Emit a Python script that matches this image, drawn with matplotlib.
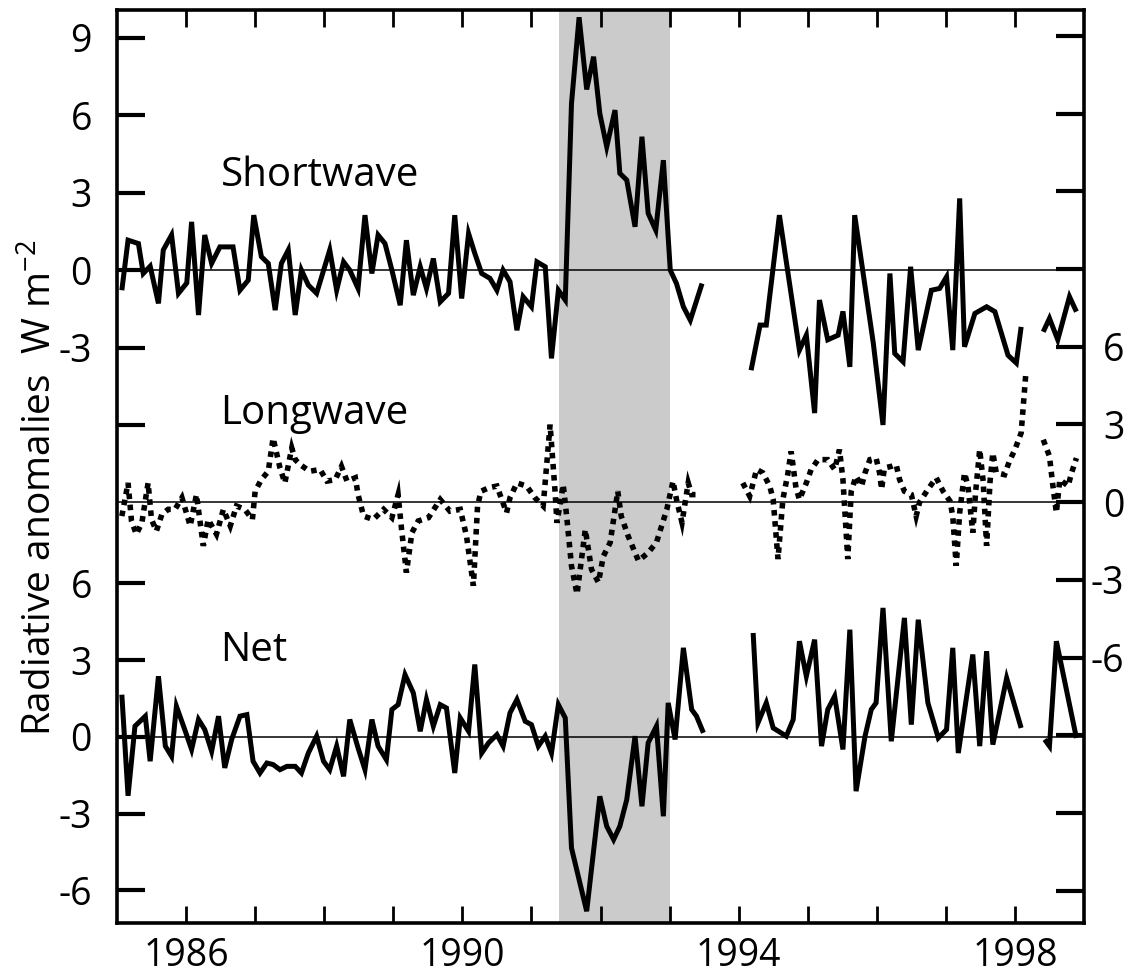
import numpy as np
import matplotlib
matplotlib.use("Agg")
import matplotlib.pyplot as plt

plt.rcParams['font.family'] = ['Open Sans', 'DejaVu Sans']
plt.rcParams['axes.unicode_minus'] = False

nan = np.nan

# shortwave anomalies (W m-2), decimal years
sw_t = [1985.07, 1985.16, 1985.31, 1985.38, 1985.48, 1985.60, 1985.67, 1985.79, 1985.89,
        1986.01, 1986.08, 1986.18, 1986.27, 1986.37, 1986.49, 1986.68, 1986.78, 1986.90, 1986.98,
        1987.09, 1987.19, 1987.29, 1987.38, 1987.48, 1987.58, 1987.67, 1987.77, 1987.89,
        1988.08, 1988.18, 1988.28, 1988.37, 1988.49, 1988.59, 1988.69, 1988.78, 1988.88, 1988.98,
        1989.10, 1989.19, 1989.29, 1989.39, 1989.48, 1989.58, 1989.68, 1989.80, 1989.89, 1989.99,
        1990.09, 1990.18, 1990.28, 1990.40, 1990.50, 1990.59, 1990.69, 1990.79, 1990.88,
        1991.00, 1991.08, 1991.20, 1991.29, 1991.39, 1991.49,
        1991.58, 1991.69, 1991.80, 1991.90, 1991.99, 1992.09, 1992.21, 1992.28, 1992.38, 1992.50,
        1992.60, 1992.69, 1992.80, 1992.91, 1993.01, 1993.10, 1993.20, 1993.30, 1993.47,
        1993.80,
        1994.18, 1994.31, 1994.40, 1994.59, 1994.88, 1994.98, 1995.10, 1995.17, 1995.29, 1995.44,
        1995.51, 1995.61, 1995.68, 1995.95, 1996.09, 1996.19, 1996.26, 1996.38, 1996.49, 1996.60,
        1996.79, 1996.91, 1997.01, 1997.10, 1997.20, 1997.27, 1997.42, 1997.59, 1997.71, 1997.90,
        1998.02, 1998.09,
        1998.25,
        1998.41, 1998.50, 1998.62, 1998.79, 1998.89]
sw_v = [-0.78, 1.16, 1.03, -0.13, 0.15, -1.29, 0.78, 1.36, -0.9,
        -0.5, 1.87, -1.74, 1.36, 0.26, 0.9, 0.9, -0.78, -0.39, 2.13,
        0.52, 0.26, -1.55, 0.26, 0.78, -1.74, 0, -0.58, -0.9,
        0.78, -0.78, 0.32, 0, -0.71, 2.13, -0.13, 1.36, 1.03, 0,
        -1.36, 1.16, -0.97, 0.13, -0.71, 0.45, -1.23, -0.9, 2.13, -1.1,
        1.42, 0.65, -0.13, -0.32, -0.78, 0, -0.45, -2.33, -1.03,
        -1.42, 0.32, 0.13, -3.42, -0.78, -1.16,
        6.46, 9.8, 7.0, 8.27, 6.07, 4.78, 6.2, 3.75, 3.49, 1.68,
        5.17, 2.2, 1.55, 4.26, 0, -0.52, -1.42, -1.94, -0.52,
        nan,
        -3.88, -2.13, -2.13, 2.13, -3.1, -2.52, -5.54, -1.16, -2.7, -2.52,
        -1.6, -3.75, 2.13, -2.84, -6.0, -0.13, -3.23, -3.55, 0.13, -3.1,
        -0.78, -0.71, -0.26, -3.1, 2.78, -2.97, -1.68, -1.42, -1.61, -3.3,
        -3.6, -2.2,
        nan,
        -2.39, -1.87, -2.7, -1.03, -1.61]

# longwave anomalies
lw_t = [1985.07, 1985.16, 1985.21, 1985.28, 1985.36, 1985.45, 1985.50, 1985.57, 1985.65, 1985.74,
        1985.84, 1985.94, 1986.06, 1986.15, 1986.25, 1986.32, 1986.44, 1986.54, 1986.64, 1986.73,
        1986.85, 1986.96, 1987.00, 1987.09, 1987.19, 1987.26, 1987.36, 1987.43, 1987.53, 1987.58,
        1987.65, 1987.79, 1987.94, 1988.04, 1988.16, 1988.25, 1988.33, 1988.45, 1988.49, 1988.57,
        1988.71, 1988.86, 1988.98, 1989.07, 1989.12, 1989.19, 1989.27, 1989.36, 1989.51, 1989.68,
        1989.82, 1989.97, 1990.06, 1990.16, 1990.22, 1990.27, 1990.38, 1990.50, 1990.64, 1990.69,
        1990.79, 1990.93, 1991.05, 1991.17, 1991.27, 1991.34, 1991.37, 1991.46, 1991.51,
        1991.58, 1991.66, 1991.78, 1991.87, 1991.97, 1992.04, 1992.14, 1992.25, 1992.30, 1992.40,
        1992.55, 1992.69, 1992.81, 1992.96, 1993.05, 1993.10, 1993.18, 1993.27, 1993.32, 1993.44,
        1993.75,
        1994.06, 1994.16, 1994.26, 1994.35, 1994.45, 1994.50, 1994.57, 1994.64, 1994.71, 1994.76,
        1994.83, 1994.88, 1994.98, 1995.05, 1995.15, 1995.29, 1995.39, 1995.46, 1995.51, 1995.58,
        1995.63, 1995.70, 1995.78, 1995.83, 1995.90, 1995.99, 1996.04, 1996.07, 1996.11, 1996.21,
        1996.28, 1996.33, 1996.40, 1996.50, 1996.57, 1996.62, 1996.74, 1996.86, 1996.96, 1997.06,
        1997.10, 1997.15, 1997.20, 1997.27, 1997.32, 1997.39, 1997.43, 1997.49, 1997.54, 1997.59,
        1997.64, 1997.68, 1997.73, 1997.85, 1997.92, 1998.00, 1998.09, 1998.16,
        1998.28,
        1998.41, 1998.50, 1998.55, 1998.60, 1998.65, 1998.77, 1998.82, 1998.89]
lw_v = [-0.54, 0.74, -0.73, -1.24, -0.8, 0.74, -0.67, -1.12, -0.47, -0.28,
        -0.28, 0.17, -0.92, 0.29, -1.69, -0.67, -1.24, -0.28, -0.92, -0.15,
        -0.28, -0.67, 0.42, 0.87, 1.19, 2.47, 1.32, 0.74, 2.09, 1.64,
        1.45, 1.19, 1.26, 0.81, 0.87, 1.38, 0.81, 0.94, 0.29, -0.54,
        -0.67, -0.28, -0.6, 0.29, -1.05, -2.72, -1.18, -0.73, -0.6, 0.1,
        -0.35, -0.28, -1.31, -3.23, -0.15, 0.42, 0.55, 0.62, -0.41, 0.17,
        0.74, 0.62, 0.17, -0.15, 2.99, 0.49, -0.8, 0.68, -0.54,
        -2.46, -3.55, -1.06, -2.6, -3.1, -2.1, -1.56, 0.42, -0.54, -1.31,
        -2.27, -1.95, -1.56, -0.28, 0.81, 0.1, -0.79, 0.74, 0.29, 0.29,
        nan,
        0.74, 0.23, 1.26, 1.13, 0.62, 0.1, -2.2, 0.1, 1.06, 1.96,
        0.55, 0.1, 0.74, 1.26, 1.64, 1.64, 1.26, 2.03, 0.87, -2.2,
        0.42, 1.0, 0.62, 1.13, 1.64, 1.7, 1.13, 0.49, 1.32, 1.38,
        1.45, 0.87, 0.42, 0.29, -0.54, 0, 0.49, 0.94, 0.42, 0.04,
        -0.54, -2.46, -0.41, 1.13, 0.62, -1.18, 0.36, 2.03, 0.81, -1.69,
        0.81, 1.9, 1.13, 1.06, 1.58, 2.03, 2.67, 5.04,
        nan,
        2.41, 1.77, 0.62, -0.41, 0.87, 0.62, 1.13, 1.7]

# net anomalies
net_t = [1985.07, 1985.16, 1985.26, 1985.36, 1985.41, 1985.48, 1985.60, 1985.70, 1985.79, 1985.86,
         1985.98, 1986.08, 1986.18, 1986.27, 1986.37, 1986.47, 1986.56, 1986.66, 1986.78, 1986.88,
         1986.97, 1987.07, 1987.17, 1987.26, 1987.36, 1987.46, 1987.58, 1987.67, 1987.77, 1987.89,
         1987.99, 1988.08, 1988.18, 1988.28, 1988.37, 1988.49, 1988.59, 1988.69, 1988.78, 1988.90,
         1988.98, 1989.07, 1989.17, 1989.29, 1989.39, 1989.48, 1989.58, 1989.68, 1989.77, 1989.89,
         1989.97, 1990.09, 1990.18, 1990.28, 1990.38, 1990.50, 1990.59, 1990.69, 1990.79, 1990.91,
         1991.00, 1991.10, 1991.20, 1991.29, 1991.39, 1991.49,
         1991.58, 1991.80, 1991.99, 1992.09, 1992.19, 1992.28, 1992.38, 1992.50, 1992.60, 1992.69,
         1992.81, 1992.91, 1992.98, 1993.08, 1993.20, 1993.32, 1993.39, 1993.49,
         1993.85,
         1994.21, 1994.28, 1994.40, 1994.50, 1994.69, 1994.79, 1994.88, 1994.98, 1995.10, 1995.20,
         1995.29, 1995.39, 1995.51, 1995.61, 1995.70, 1995.83, 1995.92, 1995.99, 1996.09, 1996.21,
         1996.40, 1996.50, 1996.60, 1996.74, 1996.89, 1997.01, 1997.10, 1997.18, 1997.39, 1997.49,
         1997.59, 1997.68, 1997.88, 1998.09,
         1998.25,
         1998.43, 1998.50, 1998.60, 1998.89]
net_v = [1.65, -2.3, 0.42, 0.68, 0.81, -0.95, 2.37, -0.36, -0.76, 1.2,
         0.29, -0.49, 0.68, 0.29, -0.56, 0.81, -1.21, -0.1, 0.81, 0.87,
         -0.95, -1.41, -1.02, -1.08, -1.28, -1.15, -1.15, -1.41, -0.63, 0.03,
         -0.95, -1.28, -0.36, -1.54, 0.68, -0.43, -1.28, 0.68, -0.36, -0.89,
         1.07, 1.26, 2.43, 1.72, 0.22, 1.46, 0.42, 1.26, 1.13, -1.41,
         0.74, 0.22, 2.83, -0.63, -0.23, 0.09, -0.36, 0.94, 1.46, 0.61,
         0.48, -0.36, 0.03, -0.63, 1.26, 0.74,
         -4.34, -6.81, -2.32, -3.49, -4.01, -3.49, -2.45, 0.03, -2.71, -0.23,
         0.42, -3.1, 1.33, -0.1, 3.48, 1.07, 0.81, 0.16,
         nan,
         4.06, 0.55, 1.33, 0.35, 0.03, 0.68, 3.74, 2.37, 3.8, -0.36,
         1.07, 1.59, -0.49, 4.19, -2.12, 0.03, 1.07, 1.33, 5.04, -0.17,
         4.65, 0.48, 4.58, 1.33, -0.04, 0.29, 3.48, -0.63, 3.22, -0.36,
         3.35, -0.3, 2.3, 0.35,
         nan,
         -0.1, -0.36, 3.74, -0.04]

pinatubo = (1991.4, 1993.0)
year_labels = [1986, 1990, 1994, 1998]

rect = [117 / 1128, 1 - 923 / 975, (1084 - 117) / 1128, (923 - 10) / 975]
fig = plt.figure(figsize=(11.28, 9.75), dpi=100)
ax = fig.add_axes(rect)
ax_net = fig.add_axes(rect, sharex=ax, frameon=False)
ax_lw = fig.add_axes(rect, sharex=ax, frameon=False)
ax_net.patch.set_visible(False)
ax_lw.patch.set_visible(False)

ax.axvspan(*pinatubo, color='#cbcbcb', lw=0, zorder=0)

solid = dict(color='black', lw=3.6, solid_joinstyle='miter', solid_capstyle='butt')
ax.plot(sw_t, sw_v, **solid)
ax_net.plot(net_t, net_v, **solid)
ax_lw.plot(lw_t, lw_v, color='black', lw=4.0, linestyle=(0, (1, 1.0)),
           dash_capstyle='butt', dash_joinstyle='miter')

for a in (ax, ax_net, ax_lw):
    a.axhline(0, color='black', lw=1.1, zorder=1)

ax.set_xlim(1985, 1999)
ax.set_ylim(-25.3, 10.08)
ax_net.set_ylim(-7.27, 28.4)
ax_lw.set_ylim(-16.25, 19.0)

# x ticks every year, labelled every four
years = np.arange(1986, 1999)
ax.set_xticks(years)
ax.set_xticklabels([str(y) if y in year_labels else '' for y in years])
ax.tick_params(axis='x', direction='in', length=12, width=2.0, top=True,
               labelsize=27, pad=10)
ax.tick_params(axis='x', which='both', labeltop=False)

# left: shortwave and net
sw_ticks = [9, 6, 3, 0, -3, -6]
ax.set_yticks(sw_ticks)
ax.set_yticklabels(['9', '6', '3', '0', '-3', ''])
net_ticks = [6, 3, 0, -3, -6]
ax_net.set_yticks(net_ticks)
ax_net.set_yticklabels([str(v) for v in net_ticks])
for a in (ax, ax_net):
    a.tick_params(axis='y', direction='in', length=20, width=3.0, labelsize=27,
                  pad=18, right=False)
ax_net.tick_params(axis='x', bottom=False, labelbottom=False)

# right: longwave, labels right-aligned near the figure edge
lw_ticks = np.arange(18, -16, -3)
ax_lw.set_yticks(lw_ticks)
ax_lw.set_yticklabels([str(v) if abs(v) <= 6 else '' for v in lw_ticks])
ax_lw.yaxis.tick_right()
ax_lw.tick_params(axis='y', direction='in', length=20, width=3.0, labelsize=27,
                  pad=29, left=False)
for lab in ax_lw.get_yticklabels():
    lab.set_horizontalalignment('right')
ax_lw.tick_params(axis='x', bottom=False, labelbottom=False)

for s in ax.spines.values():
    s.set_linewidth(2.6)

ax.text(1986.5, 3.25, 'Shortwave', fontsize=29, va='baseline')
ax_lw.text(1986.5, 3.0, 'Longwave', fontsize=29, va='baseline')
ax_net.text(1986.5, 2.95, 'Net', fontsize=29, va='baseline')

fig.text(0.036, 0.50, r'Radiative anomalies  W m$^{\mathregular{-2}}$', rotation=90,
         fontsize=28, ha='center', va='center')

fig.savefig('out.png', dpi=100)
